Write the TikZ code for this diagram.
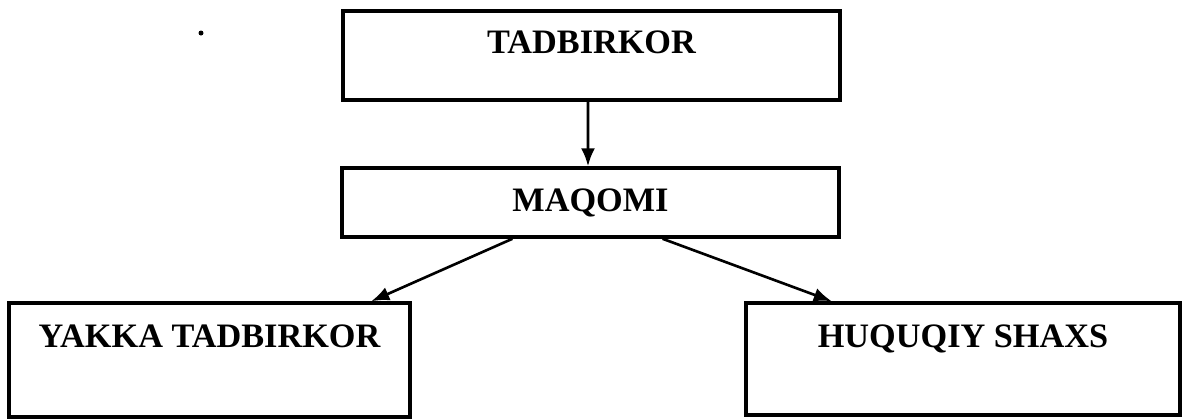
\documentclass[tikz,border=0pt]{standalone}
\usepackage{fontspec}
\setmainfont{Liberation Serif}
\usetikzlibrary{calc,arrows.meta}

\begin{document}
\begin{tikzpicture}[
    box/.style={draw, line width=2pt, inner sep=0pt,
        font=\fontsize{19.5}{23}\selectfont\bfseries},
    link/.style={line width=1.5pt, -{Latex[length=3.6mm,width=2.8mm]}}]
\useasboundingbox (0,0) rectangle (23.64,-8.36);

% top level
\node[box, minimum width=9.94cm, text height=0.84cm, text depth=0.94cm] (tad) at (11.83,-1.11) {TADBIRKOR};
\node[box, minimum width=9.94cm, minimum height=1.38cm] (maq) at (11.81,-4.05) {MAQOMI};

% two kinds
\node[box, minimum width=8.02cm, text height=0.88cm, text depth=1.40cm] (yak) at (4.19,-7.20) {YAKKA TADBIRKOR};
\node[box, minimum width=8.68cm, text height=0.88cm, text depth=1.36cm] (huq) at (19.26,-7.18) {HUQUQIY SHAXS};

\draw[link] ($(tad.south west)!0.493!(tad.south east)$) -- ($(maq.north west)!0.495!(maq.north east)$);
\draw[link] ($(maq.south west)!0.344!(maq.south east)$) -- ($(yak.north west)!0.9!(yak.north east)$);
\draw[link] ($(maq.south west)!0.644!(maq.south east)$) -- ($(huq.north west)!0.2!(huq.north east)$);

% stray dot
\fill (4.02,-0.66) circle (0.05);
\end{tikzpicture}
\end{document}
